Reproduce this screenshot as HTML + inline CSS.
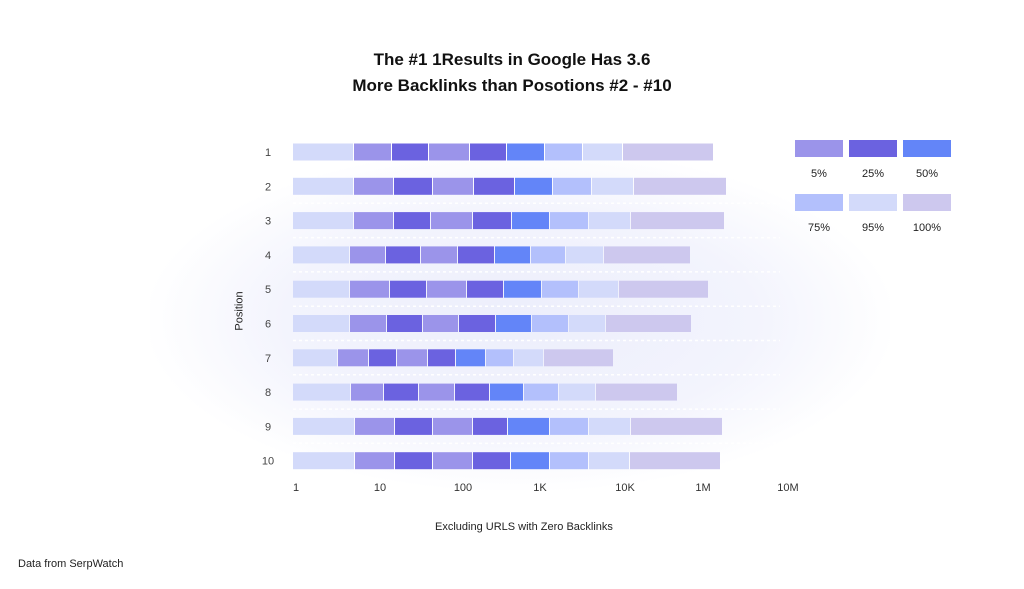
<!DOCTYPE html>
<html><head><style>
body{margin:0;width:1024px;height:589px;background:#fff;overflow:hidden;font-family:"Liberation Sans",sans-serif;position:relative}
.glow{position:absolute;left:150px;top:150px;width:740px;height:340px;background:radial-gradient(ellipse at center,#eceefc 0%,#f3f4fd 45%,rgba(255,255,255,0) 72%)}
.t{position:absolute;left:0;width:1024px;text-align:center;font-weight:bold;font-size:17px;color:#111}
.s{position:absolute;font-size:11px;color:#333}
</style></head><body>
<div class="glow"></div>
<div class="t" style="top:50px">The #1 1Results in Google Has 3.6</div>
<div class="t" style="top:76px">More Backlinks than Posotions #2 - #10</div>
<svg width="1024" height="589" style="position:absolute;left:0;top:0" id="s"></svg>
<div class="s" style="left:435px;top:521px;color:#222">Excluding URLS with Zero Backlinks</div>
<div class="s" style="left:18px;top:558px;color:#222">Data from SerpWatch</div>
<div class="s" style="left:220px;top:305px;transform:rotate(-90deg);color:#222">Position</div>
<script>
var rows=[[293,354,392,429,470,507,545,583,623,714],[293,354,394,433,474,515,553,592,634,727],[293,354,394,431,473,512,550,589,631,725],[293,350,386,421,458,495,531,566,604,691],[293,350,390,427,467,504,542,579,619,709],[293,350,387,423,459,496,532,569,606,692],[293,338,369,397,428,456,486,514,544,614],[293,351,384,419,455,490,524,559,596,678],[293,355,395,433,473,508,550,589,631,723],[293,355,395,433,473,511,550,589,630,721]];
var cols=["#d3dafa","#9b94ea","#6b62e0","#9b94ea","#6b62e0","#6385f8","#b3c0fc","#d3dafa","#cdc8ee"];
var h="";
for(var i=0;i<10;i++){var cy=152+i*34.3,r=rows[i];
 for(var j=0;j<9;j++)h+='<rect x="'+r[j]+'" y="'+(cy-8.5)+'" width="'+(r[j+1]-r[j]-1)+'" height="17" fill="'+cols[j]+'"/>';
 h+='<text x="268" y="'+(cy+4)+'" font-size="11" fill="#444" text-anchor="middle" font-family="Liberation Sans">'+(i+1)+'</text>';
 if(i>0&&i<9)h+='<line x1="293" x2="780" y1="'+(cy+17)+'" y2="'+(cy+17)+'" stroke="#fff" stroke-width="1.5" stroke-dasharray="3,3"/>';
}
var tk=[["1",296],["10",380],["100",463],["1K",540],["10K",625],["1M",703],["10M",788]];
tk.forEach(function(t){h+='<text x="'+t[1]+'" y="491" font-size="11" fill="#333" text-anchor="middle" font-family="Liberation Sans">'+t[0]+'</text>'});
var lg=[["5%","#9b94ea"],["25%","#6b62e0"],["50%","#6385f8"],["75%","#b3c0fc"],["95%","#d3dafa"],["100%","#cdc8ee"]];
lg.forEach(function(l,k){var x=795+(k%3)*54,y=140+Math.floor(k/3)*54;
 h+='<rect x="'+x+'" y="'+y+'" width="48" height="17" fill="'+l[1]+'"/><text x="'+(x+24)+'" y="'+(y+37)+'" font-size="11" fill="#222" text-anchor="middle" font-family="Liberation Sans">'+l[0]+'</text>'});
document.getElementById("s").innerHTML=h;
</script>
</body></html>
